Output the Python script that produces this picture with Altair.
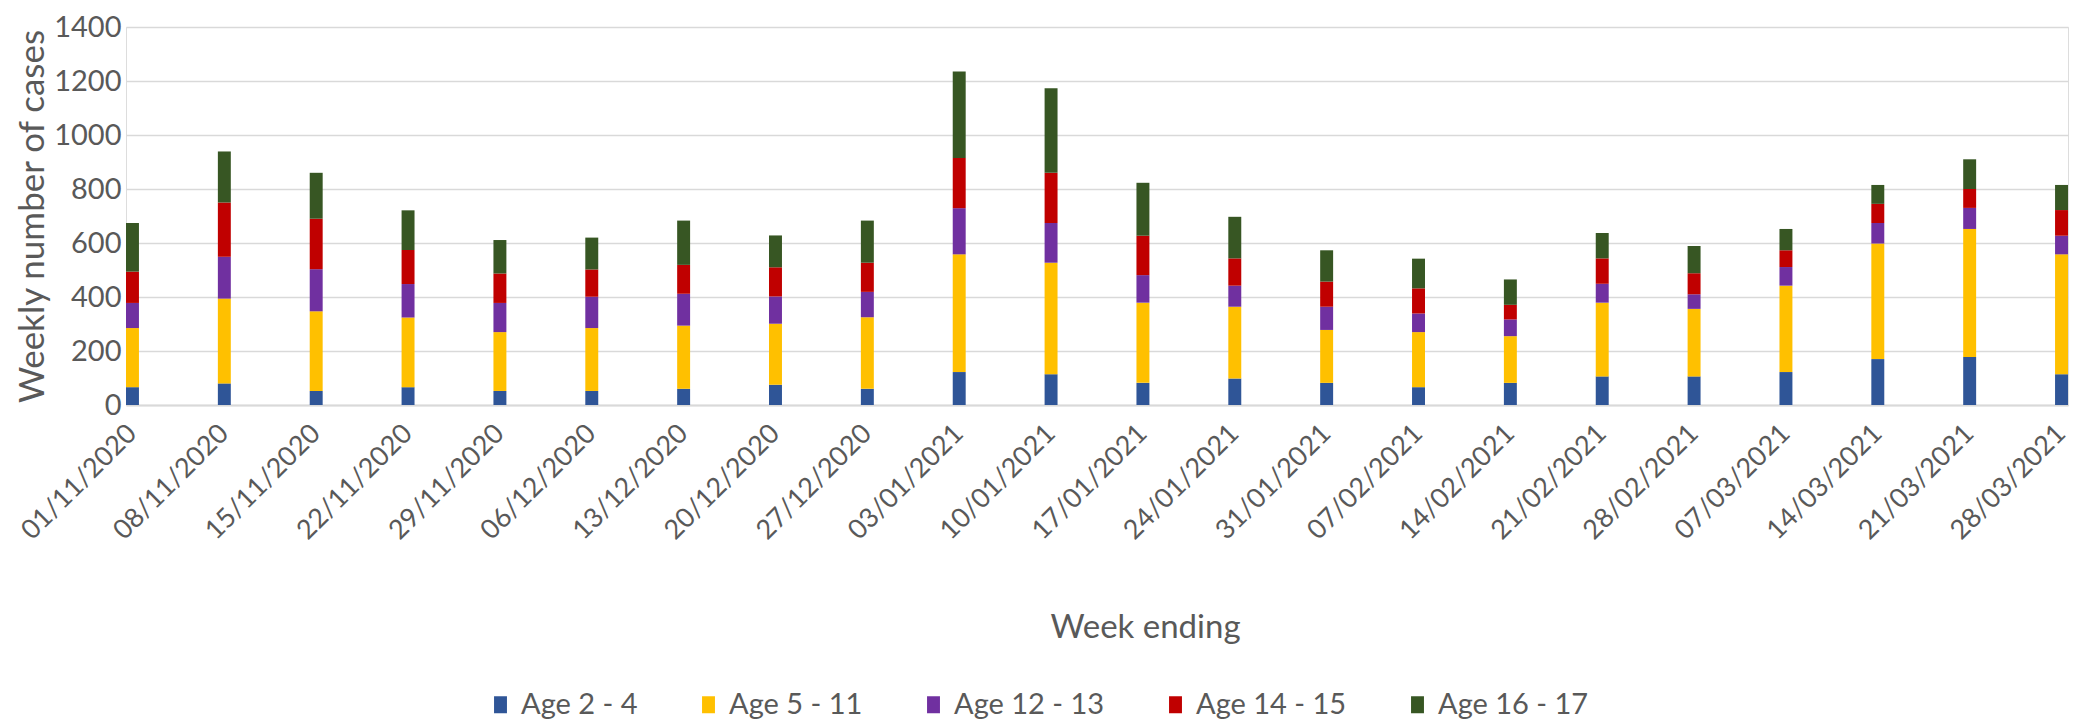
import altair as alt
import pandas as pd

weeks = ["01/11/2020", "08/11/2020", "15/11/2020", "22/11/2020", "29/11/2020",
         "06/12/2020", "13/12/2020", "20/12/2020", "27/12/2020", "03/01/2021",
         "10/01/2021", "17/01/2021", "24/01/2021", "31/01/2021", "07/02/2021",
         "14/02/2021", "21/02/2021", "28/02/2021", "07/03/2021", "14/03/2021",
         "21/03/2021", "28/03/2021"]

ages = ["Age 2 - 4", "Age 5 - 11", "Age 12 - 13", "Age 14 - 15", "Age 16 - 17"]
colors = ["#2F5597", "#FFC000", "#7030A0", "#C00000", "#375623"]

age_2_4 = [66, 80, 52, 66, 52, 52, 60, 75, 60, 122, 114, 82, 98, 82, 66, 82, 106, 106, 122, 170, 178, 114]
age_5_11 = [219, 314, 295, 258, 218, 233, 234, 226, 265, 436, 413, 297, 266, 196, 204, 173, 273, 250, 320, 428, 474, 444]
age_12_13 = [93, 155, 156, 124, 108, 116, 118, 101, 94, 171, 147, 102, 78, 86, 69, 62, 70, 54, 69, 76, 78, 69]
age_14_15 = [116, 201, 187, 126, 109, 101, 107, 108, 108, 186, 186, 146, 101, 93, 93, 54, 94, 78, 62, 71, 70, 95]
age_16_17 = [180, 189, 170, 147, 124, 118, 164, 118, 156, 320, 313, 196, 154, 116, 110, 94, 94, 101, 79, 70, 110, 93]

series = [age_2_4, age_5_11, age_12_13, age_14_15, age_16_17]

rows = []
for i, (age, vals) in enumerate(zip(ages, series)):
    for w, v in zip(weeks, vals):
        rows.append({"week": w, "age": age, "cases": v, "order": i})
df = pd.DataFrame(rows)

FONT = "Lato"
GREY = "#595959"

chart = alt.Chart(df).mark_bar(strokeWidth=0).encode(
    x=alt.X("week:N", sort=weeks,
            scale=alt.Scale(paddingInner=0.859, paddingOuter=0),
            axis=alt.Axis(title="Week ending", labelAngle=-45, labelAlign="right",
                          labelBaseline="middle", labelPadding=24,
                          labelFontSize=27, labelFont=FONT, labelColor=GREY,
                          ticks=False, domainColor="#D9D9D9", domainWidth=2,
                          titleFont=FONT, titleFontSize=33, titleFontWeight="normal",
                          titleColor=GREY, titleX=1019, titleY=222,
                          titleAlign="center", titleBaseline="middle",
                          labelLimit=400)),
    y=alt.Y("cases:Q", stack="zero",
            scale=alt.Scale(domain=[0, 1400]),
            axis=alt.Axis(title="Weekly number of cases", values=list(range(0, 1401, 200)),
                          format="d",
                          labelFontSize=29, labelFont=FONT, labelColor=GREY,
                          labelPadding=5, ticks=False, domain=False,
                          gridColor="#D9D9D9", gridWidth=1.5,
                          titleFont=FONT, titleFontSize=35, titleFontWeight="normal",
                          titleColor=GREY, titleX=-94, titleY=189,
                          titleAngle=-90, titleAlign="center", titleBaseline="middle")),
    color=alt.Color("age:N", sort=ages,
                    scale=alt.Scale(domain=ages, range=colors),
                    legend=alt.Legend(title=None, orient="none", direction="horizontal",
                                      legendX=360, legendY=663,
                                      symbolType="M-0.76,-1H0.76V1H-0.76Z",
                                      symbolSize=289, symbolStrokeWidth=0,
                                      labelFont=FONT, labelFontSize=29, labelColor=GREY,
                                      labelOffset=6, columnPadding=56, labelLimit=400)),
    order=alt.Order("order:Q", sort="ascending"),
).properties(
    width=1942, height=378,
    autosize=alt.AutoSizeParams(type="none"),
    padding={"left": 118, "top": 19, "right": 6, "bottom": 315},
).configure_view(stroke=None).configure(background="white")

chart.save("out.html", embed_options={"renderer": "svg", "actions": False})
